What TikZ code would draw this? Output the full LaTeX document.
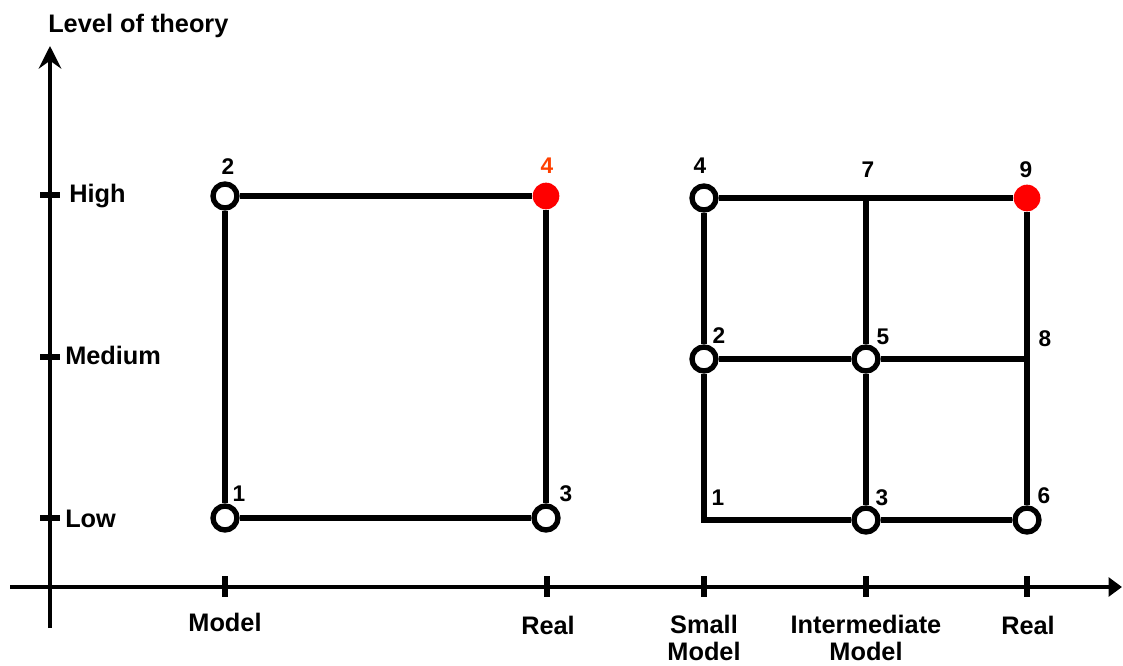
\documentclass[tikz,border=0pt]{standalone}
\usepackage{fontspec}
\setmainfont{Liberation Sans}
\usetikzlibrary{arrows.meta,positioning}
\definecolor{targetred}{RGB}{255,0,0}
\definecolor{targetlabel}{RGB}{255,64,0}
\tikzset{
  openpoint/.style={circle,draw=black,fill=white,line width=4pt,
    minimum size=18pt,inner sep=0pt},
  targetpoint/.style={circle,fill=targetred,minimum size=20pt,inner sep=0pt},
  gridline/.style={line width=4pt},
  axisline/.style={line width=3.2pt},
  tickmark/.style={line width=4.4pt},
  axislabel/.style={font=\fontsize{19}{20}\selectfont\bfseries,inner sep=0pt,align=center},
  pointlabel/.style={font=\fontsize{17}{19}\selectfont\bfseries,inner sep=0pt}
}

\begin{document}
\begin{tikzpicture}[x=0.75pt,y=-0.75pt]
  \useasboundingbox (0,0) rectangle (1123,666);

  % axes
  \coordinate (ybottom) at (50,628);
  \coordinate (ytip) at (50,46);
  \coordinate (xstart) at (10,587);
  \coordinate (xtip) at (1122,587);
  \draw[axisline,-{Stealth[length=17pt,width=17pt,inset=6pt]}] (ybottom) -- (ytip);
  \draw[axisline,-{Triangle[length=10pt,width=14pt]}] (xstart) -- (xtip);
  \foreach \y in {195,357,518}
    \draw[tickmark] (40,\y) -- (60,\y);
  \foreach \x in {225,547,704,866,1027}
    \draw[tickmark] (\x,576) -- (\x,597);

  \node[axislabel,anchor=base west] (ytitle) at (48,33) {Level of theory};
  \node[axislabel,anchor=base west] (lhigh) at (69,203) {High};
  \node[axislabel,anchor=base west] (lmedium) at (65,364) {Medium};
  \node[axislabel,anchor=base west] (llow) at (65,527) {Low};

  % two-line labels sit on the baseline of their last line
  \node[axislabel,anchor=base] (lmodel) at (225,631) {Model};
  \node[axislabel,anchor=base] (lreal) at (548,634) {Real};
  \node[axislabel,anchor=base] (lsmall) at (704,660) {Small\\Model};
  \node[axislabel,anchor=base] (linter) at (866,660) {Intermediate\\Model};
  \node[axislabel,anchor=base] (lrealb) at (1028,634) {Real};

  % two-layer scheme
  \node[openpoint] (a1) at (225,518) {};
  \node[openpoint] (a2) at (225,196) {};
  \node[openpoint] (a3) at (546,518) {};
  \node[targetpoint] (a4) at (546,196) {};
  \draw[gridline] (a1) -- (a2);
  \draw[gridline] (a2) -- (a4);
  \draw[gridline] (a4) -- (a3);
  \draw[gridline] (a3) -- (a1);

  \node[pointlabel] (na1) at (239,494) {1};
  \node[pointlabel] (na2) at (228,167) {2};
  \node[pointlabel] (na3) at (566,494) {3};
  \node[pointlabel,text=targetlabel] (na4) at (547,166) {4};

  % three-layer scheme
  \coordinate (b1) at (704,520);
  \node[openpoint] (b2) at (704,359) {};
  \node[openpoint] (b3) at (866,520) {};
  \node[openpoint] (b4) at (704,198) {};
  \node[openpoint] (b5) at (866,359) {};
  \node[openpoint] (b6) at (1027,520) {};
  \coordinate (b7) at (866,198);
  \coordinate (b8) at (1027,359);
  \node[targetpoint] (b9) at (1027,198) {};

  \draw[gridline] (b4) -- (b7) -- (b9);
  \draw[gridline] (b2) -- (b5) -- (b8);
  \draw[gridline] (b2) -- (b1) -- (b3) -- (b6);
  \draw[gridline] (b4) -- (b2);
  \draw[gridline] (b7) -- (b5) -- (b3);
  \draw[gridline] (b9) -- (b8) -- (b6);

  \node[pointlabel] (nb1) at (718,498) {1};
  \node[pointlabel] (nb2) at (719,336) {2};
  \node[pointlabel] (nb3) at (882,498) {3};
  \node[pointlabel] (nb4) at (700,166) {4};
  \node[pointlabel] (nb5) at (883,337) {5};
  \node[pointlabel] (nb6) at (1044,496) {6};
  \node[pointlabel] (nb7) at (868,170) {7};
  \node[pointlabel] (nb8) at (1045,339) {8};
  \node[pointlabel] (nb9) at (1026,170) {9};
\end{tikzpicture}
\end{document}
